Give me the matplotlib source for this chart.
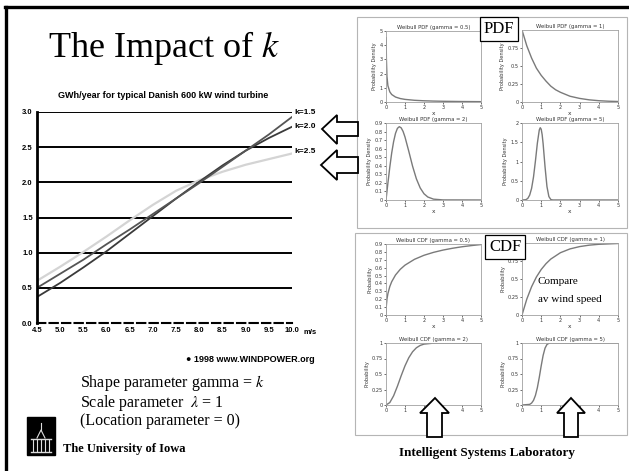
import numpy as np
import matplotlib.pyplot as plt
from matplotlib.patches import Polygon, Rectangle
from matplotlib.lines import Line2D

W, H = 629, 471

# left chart: GWh/year vs mean wind speed
speed = [4.5, 5.0, 5.5, 6.0, 6.5, 7.0, 7.5, 8.0, 8.5, 9.0, 9.5, 10.0]
gwh_k15 = [0.50, 0.70, 0.90, 1.12, 1.33, 1.55, 1.77, 1.99, 2.22, 2.45, 2.68, 2.93]
gwh_k20 = [0.37, 0.57, 0.79, 1.02, 1.27, 1.52, 1.77, 2.01, 2.24, 2.45, 2.63, 2.79]
gwh_k25 = [0.60, 0.80, 1.01, 1.23, 1.46, 1.68, 1.88, 2.03, 2.15, 2.25, 2.33, 2.41]
speed_labels = ["4.5", "5.0", "5.5", "6.0", "6.5", "7.0", "7.5", "8.0", "8.5", "9.0", "9.5", "10.0"]
gwh_ticks = [0.0, 0.5, 1.0, 1.5, 2.0, 2.5, 3.0]
gwh_labels = ["0.0", "0.5", "1.0", "1.5", "2.0", "2.5", "3.0"]

# weibull pdf curves
x_g05 = [0.01, 0.02, 0.05, 0.1, 0.2, 0.3, 0.5, 0.75, 1.0, 1.5, 2.0, 2.5, 3.0, 4.0, 5.0]
pdf_g05 = [4.52, 3.07, 1.79, 1.15, 0.715, 0.528, 0.349, 0.243, 0.184, 0.12, 0.086, 0.065, 0.051, 0.034, 0.024]
x_g1 = [0, 0.25, 0.5, 0.75, 1.0, 1.25, 1.5, 1.75, 2.0, 2.5, 3.0, 3.5, 4.0, 4.5, 5.0]
pdf_g1 = [1.0, 0.78, 0.61, 0.47, 0.37, 0.29, 0.22, 0.17, 0.135, 0.08, 0.05, 0.03, 0.018, 0.011, 0.007]
x_g2 = [0, 0.1, 0.2, 0.3, 0.4, 0.5, 0.6, 0.7, 0.8, 0.9, 1.0, 1.2, 1.4, 1.6, 1.8, 2.0, 2.2, 2.5, 3.0, 5.0]
pdf_g2 = [0, 0.198, 0.384, 0.55, 0.682, 0.779, 0.837, 0.857, 0.843, 0.801, 0.736, 0.569, 0.394, 0.247, 0.141, 0.073, 0.035, 0.010, 0.001, 0]
x_g5 = [0, 0.2, 0.3, 0.4, 0.5, 0.6, 0.7, 0.8, 0.9, 0.95, 1.0, 1.05, 1.1, 1.2, 1.3, 1.4, 1.5, 1.6, 5.0]
pdf_g5 = [0, 0.008, 0.04, 0.127, 0.303, 0.60, 1.015, 1.476, 1.818, 1.878, 1.839, 1.696, 1.462, 0.861, 0.349, 0.089, 0.013, 0.001, 0]

# weibull cdf curves
xc_g05 = [0, 0.01, 0.05, 0.1, 0.2, 0.3, 0.5, 0.75, 1.0, 1.5, 2.0, 2.5, 3.0, 3.5, 4.0, 4.5, 5.0]
cdf_g05 = [0, 0.095, 0.20, 0.271, 0.361, 0.422, 0.507, 0.579, 0.632, 0.706, 0.757, 0.794, 0.823, 0.846, 0.865, 0.880, 0.893]
xc_g1 = [0, 0.25, 0.5, 0.75, 1.0, 1.25, 1.5, 2.0, 2.5, 3.0, 3.5, 4.0, 5.0]
cdf_g1 = [0, 0.221, 0.393, 0.528, 0.632, 0.713, 0.777, 0.865, 0.918, 0.950, 0.970, 0.982, 0.993]
xc_g2 = [0, 0.2, 0.4, 0.6, 0.8, 1.0, 1.2, 1.4, 1.6, 1.8, 2.0, 2.5, 3.0, 5.0]
cdf_g2 = [0, 0.039, 0.148, 0.302, 0.473, 0.632, 0.763, 0.859, 0.923, 0.961, 0.982, 0.998, 1.0, 1.0]
xc_g5 = [0, 0.4, 0.5, 0.6, 0.7, 0.8, 0.9, 1.0, 1.1, 1.2, 1.3, 1.4, 1.5, 5.0]
cdf_g5 = [0, 0.010, 0.031, 0.075, 0.155, 0.279, 0.446, 0.632, 0.800, 0.917, 0.976, 0.995, 1.0, 1.0]

plt.rcParams['mathtext.fontset'] = 'stix'
serif = 'Liberation Serif'
sans = 'Liberation Sans'

fig = plt.figure(figsize=(W / 100, H / 100), dpi=100)
fig.patch.set_facecolor('white')


def add_ax(x0, y0, x1, y1):
    # pixel box -> figure axes
    return fig.add_axes([x0 / W, 1 - y1 / H, (x1 - x0) / W, (y1 - y0) / H])


def fxy(pts):
    return [(x / W, 1 - y / H) for x, y in pts]


def arrow(pts):
    fig.add_artist(Polygon(fxy(pts), closed=True, facecolor='white',
                           edgecolor='black', lw=1.3, transform=fig.transFigure, zorder=20))


# slide frame
fig.add_artist(Line2D([5 / W, 1], [1 - 6.5 / H, 1 - 6.5 / H], color='black', lw=2.4))
fig.add_artist(Line2D([6.5 / W, 6.5 / W], [0, 1 - 6.5 / H], color='black', lw=2.4))

fig.text(164 / W, 1 - 48 / H, "The Impact of $k$", fontsize=26, family=serif,
         ha='center', va='center')

# ---- left chart
ax = add_ax(37, 112, 292, 323)
ax.plot(speed, gwh_k25, color='#d4d4d4', lw=1.6)
ax.plot(speed, gwh_k20, color='#3a3a3a', lw=1.3)
ax.plot(speed, gwh_k15, color='#555555', lw=1.3)
ax.set_xlim(4.5, 10.0)
ax.set_ylim(0, 3.0)
for g in gwh_ticks[1:]:
    ax.axhline(g, color='black', lw=1.4, zorder=0)
for s in ['top', 'right']:
    ax.spines[s].set_visible(False)
ax.spines['left'].set_linewidth(2)
ax.spines['bottom'].set_linewidth(1.5)
ax.spines['bottom'].set_linestyle((0, (4, 2)))
ax.set_xticks(speed)
ax.set_xticklabels(speed_labels, fontsize=5.5, fontweight='bold', family=sans)
ax.set_yticks(gwh_ticks)
ax.set_yticklabels(gwh_labels, fontsize=5.5, fontweight='bold', family=sans)
ax.tick_params(length=0, pad=3)
ax.text(10.05, 2.99, "k=1.5", fontsize=6, fontweight='bold', family=sans, va='center', clip_on=False)
ax.text(10.05, 2.79, "k=2.0", fontsize=6, fontweight='bold', family=sans, va='center', clip_on=False)
ax.text(10.05, 2.44, "k=2.5", fontsize=6, fontweight='bold', family=sans, va='center', clip_on=False)
fig.text(163 / W, 1 - 95 / H, "GWh/year for typical Danish 600 kW wind turbine",
         fontsize=6.5, fontweight='bold', family=sans, ha='center', va='center')
fig.text(303 / W, 1 - 333 / H, "m/s", fontsize=5.5, fontweight='bold', family=sans, va='center')
fig.text(315 / W, 1 - 360 / H, "\u25cf 1998 www.WINDPOWER.org", fontsize=6.5,
         fontweight='bold', family=sans, ha='right', va='center')

fig.text(80 / W, 1 - 401 / H,
         "Shape parameter gamma = $k$\nScale parameter  $\\lambda$ = 1\n(Location parameter = 0)",
         fontsize=11.5, family=serif, va='center', linespacing=0.98)

# university logo + footer
fig.add_artist(Rectangle((27 / W, 1 - 455 / H), 28 / W, 38 / H, color='black', transform=fig.transFigure))
for cx in [33, 37, 41, 45, 49]:
    fig.add_artist(Line2D([cx / W, cx / W], [1 - 451 / H, 1 - 440 / H], color='#dddddd', lw=0.8))
fig.add_artist(Line2D([31 / W, 51 / W], [1 - 439 / H, 1 - 439 / H], color='#dddddd', lw=1))
fig.add_artist(Line2D([31 / W, 51 / W], [1 - 452 / H, 1 - 452 / H], color='#dddddd', lw=1))
fig.add_artist(Line2D([37 / W, 41 / W, 45 / W], [1 - 438 / H, 1 - 430 / H, 1 - 438 / H], color='#dddddd', lw=0.8))
fig.add_artist(Line2D([41 / W, 41 / W], [1 - 430 / H, 1 - 423 / H], color='#dddddd', lw=0.8))
fig.text(63 / W, 1 - 449 / H, "The University of Iowa", fontsize=9, fontweight='bold',
         family=serif, va='center')
fig.text(487 / W, 1 - 453 / H, "Intelligent Systems Laboratory", fontsize=9.5, fontweight='bold',
         family=serif, ha='center', va='center')

# ---- right panels
fig.add_artist(Rectangle((357 / W, 1 - 228 / H), 270 / W, 211 / H, fill=False,
                         edgecolor='#b5b5b5', lw=0.8, transform=fig.transFigure))
fig.add_artist(Rectangle((355 / W, 1 - 435 / H), 272 / W, 202 / H, fill=False,
                         edgecolor='#b5b5b5', lw=0.8, transform=fig.transFigure))

panels = [
    # box, x, y, ymax, yticks, title, ylabel
    ((386, 31, 481, 102), x_g05, pdf_g05, 5, [0, 1, 2, 3, 4, 5], "Weibull PDF (gamma = 0.5)", "Probability Density"),
    ((522, 30, 618, 102), x_g1, pdf_g1, 1, [0, 0.25, 0.5, 0.75], "Weibull PDF (gamma = 1)", "Probability Density"),
    ((386, 123, 481, 200), x_g2, pdf_g2, 0.9, [0, 0.1, 0.2, 0.3, 0.4, 0.5, 0.6, 0.7, 0.8, 0.9], "Weibull PDF (gamma = 2)", "Probability Density"),
    ((522, 123, 618, 200), x_g5, pdf_g5, 2, [0, 0.5, 1, 1.5, 2], "Weibull PDF (gamma = 5)", "Probability Density"),
    ((386, 244, 481, 315), xc_g05, cdf_g05, 0.9, [0, 0.1, 0.2, 0.3, 0.4, 0.5, 0.6, 0.7, 0.8, 0.9], "Weibull CDF (gamma = 0.5)", "Probability"),
    ((522, 243, 618, 315), xc_g1, cdf_g1, 1, [0, 0.25, 0.5, 0.75], "Weibull CDF (gamma = 1)", "Probability"),
    ((386, 343, 481, 405), xc_g2, cdf_g2, 1, [0, 0.25, 0.5, 0.75, 1], "Weibull CDF (gamma = 2)", "Probability"),
    ((522, 343, 618, 405), xc_g5, cdf_g5, 1, [0, 0.25, 0.5, 0.75, 1], "Weibull CDF (gamma = 5)", "Probability"),
]

for box, xs, ys, ymax, yt, title, ylab in panels:
    a = add_ax(*box)
    a.plot(xs, ys, color='#7a7a7a', lw=1.0)
    a.set_xlim(0, 5)
    a.set_ylim(0, ymax)
    a.set_xticks([0, 1, 2, 3, 4, 5])
    a.set_yticks(yt)
    a.set_yticklabels([("%g" % v) for v in yt])
    a.tick_params(labelsize=3.6, length=1.5, width=0.5, pad=1, colors='#333333')
    for s in a.spines.values():
        s.set_color('#a0a0a0')
        s.set_linewidth(0.6)
    a.set_title(title, fontsize=3.8, pad=1.5, color='#333333')
    a.set_ylabel(ylab, fontsize=3.6, labelpad=1.5, color='#333333')
    a.set_xlabel("x", fontsize=4.2, labelpad=0.5, color='#333333')

# labelled boxes
fig.text(499 / W, 1 - 29 / H, "PDF", fontsize=12, family=serif, ha='center', va='center', zorder=25,
         bbox=dict(boxstyle='square,pad=0.25', fc='white', ec='black', lw=0.9))
fig.text(505 / W, 1 - 247 / H, "CDF", fontsize=12, family=serif, ha='center', va='center', zorder=25,
         bbox=dict(boxstyle='square,pad=0.25', fc='white', ec='black', lw=0.9))
fig.text(538 / W, 1 - 282 / H, "Compare", fontsize=8, family=serif, va='center')
fig.text(538 / W, 1 - 300 / H, "av wind speed", fontsize=8, family=serif, va='center')

# open block arrows
arrow([(322, 129), (337, 115), (337, 122), (358, 122), (358, 136), (337, 136), (337, 144)])
arrow([(321, 165), (337, 150), (337, 157), (358, 157), (358, 173), (337, 173), (337, 180)])
arrow([(435, 398), (449, 413), (442, 413), (442, 437), (427, 437), (427, 413), (420, 413)])
arrow([(571, 398), (585, 413), (578, 413), (578, 437), (564, 437), (564, 413), (557, 413)])

plt.savefig("out.png", dpi=100)
